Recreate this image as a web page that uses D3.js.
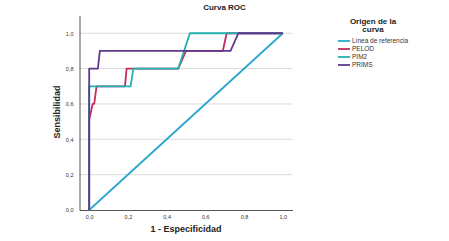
<!DOCTYPE html>
<html><head><meta charset="utf-8">
<script src="https://cdn.jsdelivr.net/npm/d3@7"></script>
<style>body{margin:0;background:#fff}svg{display:block;font-family:"Liberation Sans",Arial,sans-serif}</style>
</head><body>
<svg id="c" width="449" height="241"></svg>
<script>
const seriesNames = ["Línea de referencia", "PELOD", "PIM2", "PRIMS"];
const seriesColors = ["#2aa6cc", "#c52a62", "#22b1b0", "#5e3a8f"];
const refX = [0, 1];
const refY = [0, 1];
const pelodX = [0, 0, 0.018, 0.026, 0.038, 0.185, 0.193, 0.46, 0.5, 0.69, 0.71, 1];
const pelodY = [0, 0.51, 0.6, 0.6, 0.7, 0.7, 0.8, 0.8, 0.9, 0.9, 1.0, 1.0];
const pim2X = [0, 0, 0.214, 0.228, 0.46, 0.52, 1];
const pim2Y = [0, 0.7, 0.7, 0.8, 0.8, 1.0, 1.0];
const primsX = [0, 0, 0.045, 0.055, 0.73, 0.77, 1];
const primsY = [0, 0.8, 0.8, 0.9, 0.9, 1.0, 1.0];
const xTicks = [0, 0.2, 0.4, 0.6, 0.8, 1.0];
const yTicks = [0, 0.2, 0.4, 0.6, 0.8, 1.0];

const svg = d3.select("#c");
const x = d3.scaleLinear().domain([-0.05, 1.05]).range([79.5, 292.5]);
const y = d3.scaleLinear().domain([0, 1.1]).range([210, 15.6]);
const fmt = d => d3.format(".1f")(d).replace(".", ",");

// gridlines
svg.append("g").selectAll("line").data(yTicks.filter(d => d > 0)).join("line")
  .attr("x1", x(-0.05)).attr("x2", x(1.05))
  .attr("y1", d => y(d)).attr("y2", d => y(d))
  .attr("stroke", "#dcdcdc").attr("stroke-width", 1);

const yAxis = svg.append("g").attr("transform", `translate(${x(-0.05)},0)`)
  .call(d3.axisLeft(y).tickValues(yTicks).tickFormat(fmt).tickSize(0).tickPadding(6));
const xAxis = svg.append("g").attr("transform", `translate(0,${y(0)})`)
  .call(d3.axisBottom(x).tickValues(xTicks).tickFormat(fmt).tickSize(0).tickPadding(5));
[xAxis, yAxis].forEach(a => {
  a.select(".domain").attr("stroke", "#555").attr("stroke-width", 1);
  a.selectAll("text").attr("font-size", 5.5).attr("fill", "#333").attr("font-family", "Liberation Sans, Arial, sans-serif");
});

const line = d3.line().x(d => x(d[0])).y(d => y(d[1]));
const series = [
  d3.zip(refX, refY), d3.zip(pelodX, pelodY), d3.zip(pim2X, pim2Y), d3.zip(primsX, primsY)
];
series.forEach((s, i) => {
  svg.append("path").datum(s).attr("d", line).attr("fill", "none")
    .attr("stroke", seriesColors[i]).attr("stroke-width", 1.8).attr("stroke-linejoin", "round");
});

svg.append("text").attr("x", 224.5).attr("y", 10).attr("text-anchor", "middle")
  .attr("font-size", 8).attr("font-weight", "bold").attr("fill", "#222").text("Curva ROC");
svg.append("text").attr("x", 186).attr("y", 232).attr("text-anchor", "middle")
  .attr("font-size", 9).attr("font-weight", "bold").attr("fill", "#222").text("1 - Especificidad");
svg.append("text").attr("transform", "translate(60,112) rotate(-90)").attr("text-anchor", "middle")
  .attr("font-size", 9).attr("font-weight", "bold").attr("fill", "#222").text("Sensibilidad");

const lg = svg.append("g");
lg.append("text").attr("x", 373).attr("y", 24).attr("text-anchor", "middle")
  .attr("font-size", 8).attr("font-weight", "bold").attr("fill", "#222").text("Origen de la");
lg.append("text").attr("x", 373).attr("y", 32).attr("text-anchor", "middle")
  .attr("font-size", 8).attr("font-weight", "bold").attr("fill", "#222").text("curva");
seriesNames.forEach((n, i) => {
  const yy = 41 + i * 8;
  lg.append("line").attr("x1", 338).attr("x2", 350).attr("y1", yy).attr("y2", yy)
    .attr("stroke", seriesColors[i]).attr("stroke-width", 1.8);
  lg.append("text").attr("x", 352).attr("y", yy + 2.2).attr("font-size", 6.5).attr("fill", "#333").text(n);
});
</script>
</body></html>
